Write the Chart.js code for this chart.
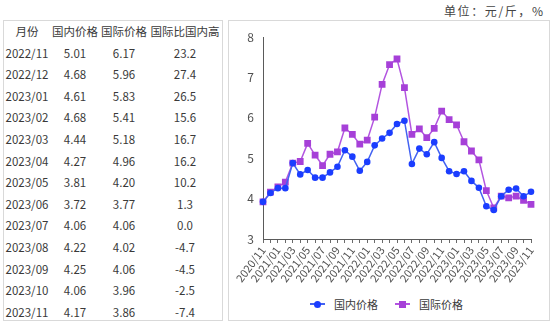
<!DOCTYPE html>
<html>
<head>
<meta charset="utf-8">
<script src="https://cdn.jsdelivr.net/npm/chart.js@4/dist/chart.umd.min.js"></script>
<style>
  html, body { margin: 0; padding: 0; background: #fff; }
  body { width: 554px; height: 325px; position: relative; overflow: hidden;
         font-family: 'Noto Sans CJK SC', 'Noto Sans', sans-serif; color: #3a3a3a; }
  #tableBox { position: absolute; left: 3px; top: 20px; width: 218px; height: 299px;
              border: 1px solid #d9d9d9; }
  .cell { position: absolute; width: 80px; text-align: center; font-size: 11.5px;
          line-height: 21.6px; height: 21.6px; white-space: nowrap; }
  #unit { position: absolute; left: 444px; top: 2px; font-size: 12px; color: #444;
          white-space: nowrap; letter-spacing: 1.6px; }
  #chartBox { position: absolute; left: 228px; top: 20px; width: 320px; height: 299px;
              border: 1px solid #d9d9d9; }
  #chartWrap { position: absolute; left: 0px; top: 0px; width: 321px; height: 275px; }
  #legend { position: absolute; top: 275px; left: 0; width: 320px; height: 16px; font-size: 11px;
            color: #3a3a3a; }
  .lg { position: absolute; top: 0; line-height: 16px; white-space: nowrap; }
  .lgLine { position: absolute; top: 7px; height: 2px; width: 15px; }
  .lgMark { position: absolute; }
</style>
</head>
<body>
<div id="unit">单位：元/斤，%</div>
<div id="tableBox"></div>
<div id="chartBox">
  <div id="chartWrap"><canvas id="c"></canvas></div>
  <div id="legend"></div>
</div>
<script>
// ---- Table data ----
const tableHeaders = ['月份', '国内价格', '国际价格', '国际比国内高'];
const tableMonths = ['2022/11','2022/12','2023/01','2023/02','2023/03','2023/04','2023/05','2023/06','2023/07','2023/08','2023/09','2023/10','2023/11'];
const tableDomestic = ['5.01','4.68','4.61','4.68','4.44','4.27','3.81','3.72','4.06','4.22','4.25','4.06','4.17'];
const tableIntl = ['6.17','5.96','5.83','5.41','5.18','4.96','4.20','3.77','4.06','4.02','4.06','3.96','3.86'];
const tableGap = ['23.2','27.4','26.5','15.6','16.7','16.2','10.2','1.3','0.0','-4.7','-4.5','-2.5','-7.4'];

// ---- Chart data ----
const months = ['2020/11','2020/12','2021/01','2021/02','2021/03','2021/04','2021/05','2021/06','2021/07','2021/08','2021/09','2021/10','2021/11','2021/12',
  '2022/01','2022/02','2022/03','2022/04','2022/05','2022/06','2022/07','2022/08','2022/09','2022/10','2022/11','2022/12',
  '2023/01','2023/02','2023/03','2023/04','2023/05','2023/06','2023/07','2023/08','2023/09','2023/10','2023/11'];
const domesticPrice = [3.92,4.14,4.26,4.26,4.88,4.60,4.71,4.52,4.52,4.65,4.79,5.20,5.04,4.69,
  4.91,5.32,5.49,5.63,5.85,5.93,4.86,5.24,5.10,5.40,5.01,4.68,
  4.61,4.68,4.44,4.27,3.81,3.72,4.06,4.22,4.25,4.06,4.17];
const intlPrice = [3.92,4.16,4.29,4.41,4.88,4.92,5.37,5.08,4.82,5.10,5.16,5.75,5.59,5.35,
  5.45,6.02,6.83,7.32,7.46,6.75,5.59,5.73,5.51,5.74,6.17,5.96,
  5.83,5.41,5.18,4.96,4.20,3.77,4.06,4.02,4.06,3.96,3.86];
const seriesNames = ['国内价格', '国际价格'];
const yTicks = [3, 4, 5, 6, 7, 8];

// ---- Build table ----
const box = document.getElementById('tableBox');
const colCenters = [23, 71, 120, 181];
const rowTop0 = 0;
const rowH = 21.6;
function addCell(text, col, row) {
  const d = document.createElement('div');
  d.className = 'cell';
  d.textContent = text;
  d.style.left = (colCenters[col] - 40) + 'px';
  d.style.top = (rowTop0 + row * rowH) + 'px';
  box.appendChild(d);
}
tableHeaders.forEach((h, i) => addCell(h, i, 0));
tableMonths.forEach((m, r) => {
  addCell(m, 0, r + 1);
  addCell(tableDomestic[r], 1, r + 1);
  addCell(tableIntl[r], 2, r + 1);
  addCell(tableGap[r], 3, r + 1);
});

// ---- Legend ----
const blueLine = '#4262f2', bluePoint = '#1b3dff';
const purpleLine = '#b355e0', purplePoint = '#a640d8';
const legend = document.getElementById('legend');
function addLegend(x, name, lineColor, pointColor, square) {
  const l = document.createElement('div');
  l.className = 'lgLine';
  l.style.left = x + 'px';
  l.style.background = lineColor;
  legend.appendChild(l);
  const m = document.createElement('div');
  m.className = 'lgMark';
  m.style.background = pointColor;
  m.style.width = '7px'; m.style.height = '7px';
  m.style.left = (x + 4) + 'px'; m.style.top = '4.5px';
  if (!square) m.style.borderRadius = '50%';
  legend.appendChild(m);
  const t = document.createElement('div');
  t.className = 'lg';
  t.style.left = (x + 24) + 'px';
  t.textContent = name;
  legend.appendChild(t);
}
addLegend(81, seriesNames[0], blueLine, bluePoint, false);
addLegend(166, seriesNames[1], purpleLine, purplePoint, true);

// ---- Chart ----
const fontFam = "'Noto Sans CJK SC', 'Noto Sans', sans-serif";
new Chart(document.getElementById('c'), {
  type: 'line',
  data: {
    labels: months,
    datasets: [
      { label: seriesNames[0], data: domesticPrice, borderColor: blueLine, backgroundColor: bluePoint,
        pointBackgroundColor: bluePoint, pointBorderColor: bluePoint, borderWidth: 1.5,
        pointStyle: 'circle', pointRadius: 3.3, pointBorderWidth: 0, tension: 0 },
      { label: seriesNames[1], data: intlPrice, borderColor: purpleLine, backgroundColor: purplePoint,
        pointBackgroundColor: purplePoint, pointBorderColor: purplePoint, borderWidth: 1.5,
        pointStyle: 'rect', pointRadius: 4.8, pointBorderWidth: 0, tension: 0 }
    ]
  },
  options: {
    responsive: true,
    maintainAspectRatio: false,
    animation: false,
    devicePixelRatio: 1,
    layout: { padding: { left: 0, top: 13, right: 19, bottom: 0 } },
    plugins: { legend: { display: false }, tooltip: { enabled: false } },
    scales: {
      x: {
        grid: { display: true, drawOnChartArea: false, drawTicks: true, tickLength: 4, color: '#6a6a6a' },
        border: { display: true, color: '#5a5a5a', width: 1 },
        ticks: {
          autoSkip: false, minRotation: 53, maxRotation: 53, padding: 1,
          color: '#505050', font: { family: fontFam, size: 11 },
          callback: function (v, i) { return i % 2 === 0 ? months[i] : ''; }
        },
        afterFit: function (s) { s.height = 57; }
      },
      y: {
        min: yTicks[0], max: yTicks[yTicks.length - 1],
        afterBuildTicks: function (s) { s.ticks = yTicks.map(v => ({ value: v })); },
        grid: { display: true, drawOnChartArea: false, drawTicks: false },
        border: { display: true, color: '#5a5a5a', width: 1 },
        ticks: { padding: 9, color: '#505050', font: { family: fontFam, size: 12 } },
        afterFit: function (s) { s.width = 34; }
      }
    }
  }
});
</script>
</body>
</html>
